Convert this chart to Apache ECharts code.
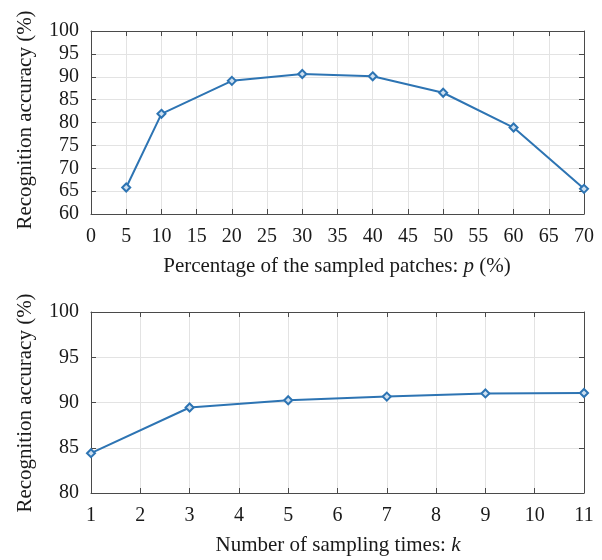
<!DOCTYPE html>
<html><head><meta charset="utf-8">
<script src="https://cdn.jsdelivr.net/npm/echarts@6/dist/echarts.min.js"></script>
<style>html,body{margin:0;padding:0;background:#fff}#c{width:602px;height:560px}</style>
</head><body><div id="c"></div>
<script>
const pValues = [5, 10, 20, 30, 40, 50, 60, 70];
const pAccuracy = [65.8, 81.9, 89.1, 90.6, 90.1, 86.5, 78.9, 65.5];
const kValues = [1, 3, 5, 7, 9, 11];
const kAccuracy = [84.4, 89.45, 90.25, 90.65, 91.0, 91.05];
const yTitle = 'Recognition accuracy (%)';
const xTitleTop = 'Percentage of the sampled patches: ';
const xTitleBottom = 'Number of sampling times: ';

const lineColor = '#2d74b3';
const font = 'Liberation Serif';
const axisColor = '#4a4a4a';
const gridColor = '#e3e3e3';
const txt = '#1a1a1a';

function valAxis(gridIndex, min, max, interval, opts) {
  return Object.assign({
    type: 'value', gridIndex, min, max, interval,
    axisLine: {show: true, onZero: false, lineStyle: {color: axisColor, width: 1}},
    axisTick: {show: true, inside: true, length: 5, lineStyle: {color: axisColor}},
    axisLabel: {color: txt, fontFamily: font, fontSize: 20},
    splitLine: {show: true, lineStyle: {color: gridColor, width: 1}}
  }, opts || {});
}
function mirror(gridIndex, min, max, interval, position) {
  return valAxis(gridIndex, min, max, interval, {
    position, axisLabel: {show: false}, splitLine: {show: false}
  });
}
const xLab = {color: txt, fontFamily: font, fontSize: 20, margin: 13};
const yLab = {color: txt, fontFamily: font, fontSize: 20, margin: 12};

const chart = echarts.init(document.getElementById('c'));
chart.setOption({
  backgroundColor: '#fff',
  animation: false,
  grid: [
    {left: 91, top: 31, width: 493, height: 183},
    {left: 91, top: 312, width: 493, height: 181}
  ],
  xAxis: [
    valAxis(0, 0, 70, 5, {position: 'bottom', axisLabel: xLab}),
    mirror(0, 0, 70, 5, 'top'),
    valAxis(1, 1, 11, 1, {position: 'bottom', axisLabel: xLab}),
    mirror(1, 1, 11, 1, 'top')
  ],
  yAxis: [
    valAxis(0, 60, 100, 5, {position: 'left', axisLabel: yLab}),
    mirror(0, 60, 100, 5, 'right'),
    valAxis(1, 80, 100, 5, {position: 'left', axisLabel: yLab}),
    mirror(1, 80, 100, 5, 'right')
  ],
  series: [
    {type: 'line', xAxisIndex: 0, yAxisIndex: 0,
     data: pValues.map((v, i) => [v, pAccuracy[i]]),
     symbol: 'diamond', symbolSize: 8, showAllSymbol: true,
     lineStyle: {color: lineColor, width: 2},
     itemStyle: {color: '#cfe0f0', borderColor: lineColor, borderWidth: 2}},
    {type: 'line', xAxisIndex: 2, yAxisIndex: 2,
     data: kValues.map((v, i) => [v, kAccuracy[i]]),
     symbol: 'diamond', symbolSize: 8, showAllSymbol: true,
     lineStyle: {color: lineColor, width: 2},
     itemStyle: {color: '#cfe0f0', borderColor: lineColor, borderWidth: 2}}
  ],
  graphic: [
    {type: 'text', position: [15, 120], rotation: Math.PI / 2,
     style: {text: yTitle, fontFamily: font, fontSize: 21, fill: txt, align: 'center', verticalAlign: 'top'}},
    {type: 'text', position: [15, 403], rotation: Math.PI / 2,
     style: {text: yTitle, fontFamily: font, fontSize: 21, fill: txt, align: 'center', verticalAlign: 'top'}},
    {type: 'text', position: [337, 256],
     style: {rich: {n: {fontFamily: font, fontSize: 21, fill: txt}, i: {fontFamily: font, fontSize: 21, fontStyle: 'italic', fill: txt}},
             text: '{n|' + xTitleTop + '}{i|p}{n| (%)}', align: 'center', verticalAlign: 'top'}},
    {type: 'text', position: [338, 535],
     style: {rich: {n: {fontFamily: font, fontSize: 21, fill: txt}, i: {fontFamily: font, fontSize: 21, fontStyle: 'italic', fill: txt}},
             text: '{n|' + xTitleBottom + '}{i|k}', align: 'center', verticalAlign: 'top'}}
  ]
});
</script></body></html>
